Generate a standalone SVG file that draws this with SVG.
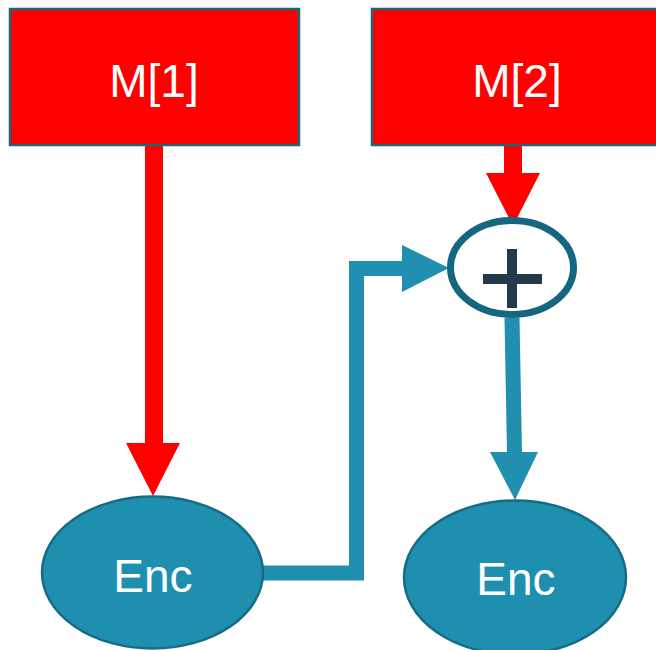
<svg xmlns="http://www.w3.org/2000/svg" width="656" height="650" viewBox="0 0 656 650">
  <style>
    .box { fill: #ff0000; stroke: #1c6678; stroke-width: 2.5; }
    .enc { fill: #1f8fb0; stroke: #176b84; stroke-width: 2.5; }
    .sum { fill: #ffffff; stroke: #15677f; stroke-width: 7; }
    .lbl { font-family: "Liberation Sans", Arial, sans-serif; font-size: 46px; fill: #ffffff; text-anchor: middle; }
    .red { fill: #ff0000; }
    .teal { fill: #2190b0; }
    .tealline { fill: none; stroke: #2190b0; stroke-width: 15; stroke-linejoin: miter; }
  </style>
  <rect width="656" height="650" fill="#ffffff"/>

  <!-- connectors -->
  <g id="connectors">
    <!-- M[1] -> left Enc -->
    <rect class="red" x="145" y="146" width="18" height="298"/>
    <polygon class="red" points="126,443 180,443 153,496"/>
    <!-- M[2] -> sum -->
    <rect class="red" x="504" y="146" width="18" height="28"/>
    <polygon class="red" points="486,173 540,173 513,226"/>
    <!-- left Enc -> sum -->
    <polyline class="tealline" points="263,573 356.5,573 356.5,268.5 404,268.5"/>
    <polygon class="teal" points="402,245 402,292 449,268"/>
    <!-- sum -> right Enc -->
    <polygon class="teal" points="504.5,318 519.5,318 522,453 507,453"/>
    <polygon class="teal" points="490,452 538,452 515,500"/>
  </g>

  <g id="m1">
    <rect class="box" x="10" y="9" width="289" height="136"/>
    <text class="lbl" x="154" y="97">M[1]</text>
  </g>

  <g id="m2">
    <rect class="box" x="372" y="9" width="290" height="136"/>
    <text class="lbl" x="517" y="97">M[2]</text>
  </g>

  <g id="sum">
    <ellipse class="sum" cx="512" cy="267.5" rx="61.5" ry="47"/>
    <rect x="507" y="249" width="10" height="59" fill="#243a48"/>
    <rect x="483" y="274" width="59" height="10" fill="#243a48"/>
  </g>

  <g id="enc1">
    <ellipse class="enc" cx="152.5" cy="572.5" rx="110.5" ry="76"/>
    <text class="lbl" x="153" y="592">Enc</text>
  </g>

  <g id="enc2">
    <ellipse class="enc" cx="515" cy="577.5" rx="111" ry="77"/>
    <text class="lbl" x="516" y="595">Enc</text>
  </g>
</svg>
